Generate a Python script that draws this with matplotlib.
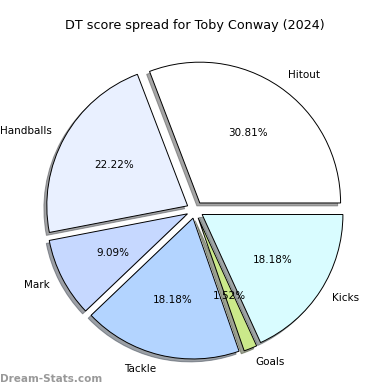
import matplotlib
matplotlib.use("Agg")
import matplotlib.pyplot as plt

# DT score spread data
labels = ["Hitout", "Handballs", "Mark", "Tackle", "Goals", "Kicks"]
scores = [61, 44, 18, 36, 3, 36]
colors = ["#ffffff", "#e9f0ff", "#c6d8ff", "#b3d4ff", "#cbe98a", "#d9fcff"]

fig = plt.figure(figsize=(3.9, 3.9), dpi=100)
ax = fig.add_axes([0.0487, 0.0104, 0.9026, 0.9026])

explode = [0.06] * len(scores)
ax.pie(scores, labels=labels, colors=colors, explode=explode,
       autopct="%1.2f%%", startangle=0,
       shadow={"ox": -0.015, "oy": -0.015},
       wedgeprops={"edgecolor": "black", "linewidth": 0.7},
       textprops={"fontsize": 7.5})

fig.text(0.5, 0.935, "DT score spread for Toby Conway (2024)",
         ha="center", va="center", fontsize=9.2)
fig.text(0.0, 0.027, "Dream-Stats.com", ha="left", va="center",
         fontsize=7.5, color="#999999", fontweight="bold")

fig.savefig("out.png", dpi=100)
